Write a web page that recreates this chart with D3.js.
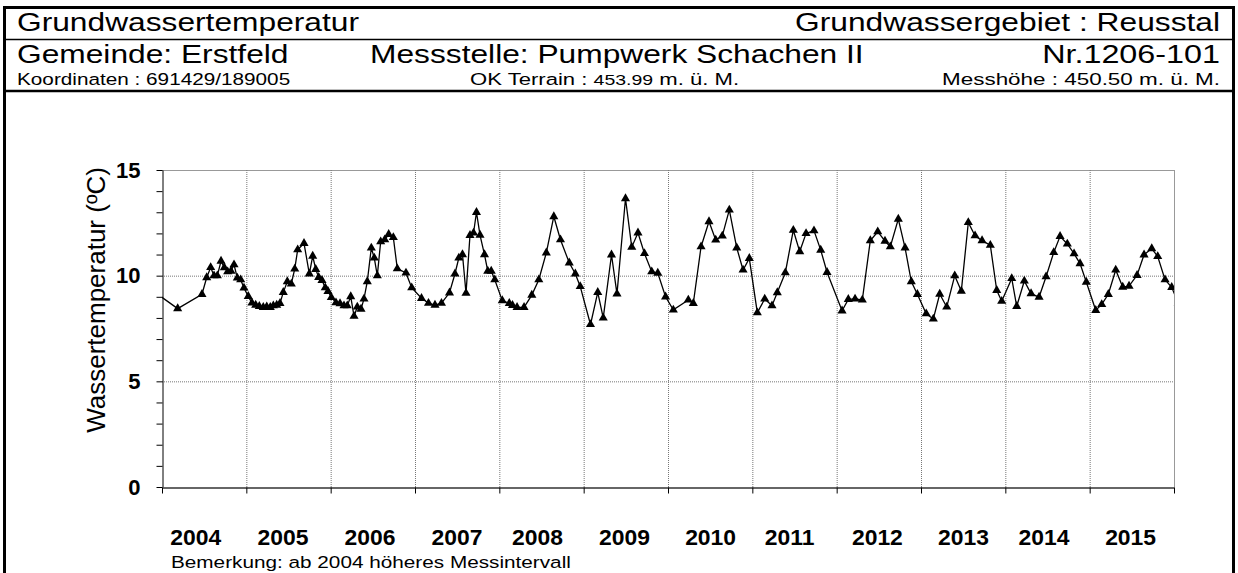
<!doctype html>
<html>
<head>
<meta charset="utf-8">
<title>Grundwassertemperatur</title>
<script src="https://cdn.jsdelivr.net/npm/d3@7/dist/d3.min.js"></script>
<style>
  html, body { margin: 0; padding: 0; background: #fff; }
  svg { display: block; font-family: "Liberation Sans", Arial, sans-serif; }
</style>
</head>
<body>
<svg id="chart" width="1238" height="573"></svg>
<script>
// measurement dates (decimal years) and groundwater temperature in degC
const years = [
  2003.85, 2004.186, 2004.474, 2004.530, 2004.577, 2004.617, 2004.656, 2004.700, 2004.739, 2004.779,
  2004.818, 2004.854, 2004.893, 2004.933, 2004.972, 2005.023, 2005.067, 2005.111, 2005.154, 2005.201,
  2005.242, 2005.284, 2005.320, 2005.360, 2005.399, 2005.438, 2005.486, 2005.533, 2005.574, 2005.609,
  2005.684, 2005.747, 2005.787, 2005.823, 2005.858, 2005.897, 2005.936, 2005.968, 2006.008, 2006.063,
  2006.111, 2006.158, 2006.197, 2006.238, 2006.277, 2006.316, 2006.360, 2006.395, 2006.434, 2006.482,
  2006.517, 2006.553, 2006.593, 2006.641, 2006.688, 2006.743, 2006.790, 2006.893, 2006.961, 2007.077,
  2007.160, 2007.237, 2007.314, 2007.409, 2007.474, 2007.520, 2007.563, 2007.605, 2007.652, 2007.694,
  2007.729, 2007.771, 2007.824, 2007.863, 2007.904, 2007.946, 2008.035, 2008.118, 2008.156, 2008.210,
  2008.293, 2008.385, 2008.468, 2008.557, 2008.646, 2008.725, 2008.829, 2008.901, 2008.959, 2009.081,
  2009.167, 2009.232, 2009.330, 2009.395, 2009.496, 2009.570, 2009.644, 2009.721, 2009.807, 2009.879,
  2009.971, 2010.063, 2010.241, 2010.300, 2010.392, 2010.486, 2010.566, 2010.644, 2010.727, 2010.815,
  2010.890, 2010.964, 2011.059, 2011.147, 2011.233, 2011.296, 2011.391, 2011.486, 2011.562, 2011.637,
  2011.731, 2011.811, 2011.886, 2012.064, 2012.138, 2012.218, 2012.304, 2012.399, 2012.487, 2012.573,
  2012.636, 2012.731, 2012.811, 2012.885, 2012.957, 2013.062, 2013.146, 2013.222, 2013.305, 2013.400,
  2013.478, 2013.561, 2013.641, 2013.724, 2013.822, 2013.898, 2013.957, 2014.076, 2014.135, 2014.225,
  2014.305, 2014.400, 2014.483, 2014.574, 2014.649, 2014.735, 2014.815, 2014.886, 2014.960, 2015.072,
  2015.143, 2015.221, 2015.309, 2015.392, 2015.467, 2015.562, 2015.645, 2015.736, 2015.807, 2015.894,
  2015.973, 2016.05
]
const temps = [
  9.40, 8.44, 9.12, 9.91, 10.39, 10.00, 10.00, 10.69, 10.38, 10.19,
  10.22, 10.52, 9.89, 9.81, 9.42, 9.02, 8.71, 8.61, 8.55, 8.50,
  8.53, 8.50, 8.58, 8.61, 8.69, 9.21, 9.72, 9.61, 10.32, 11.23,
  11.53, 10.09, 10.93, 10.30, 9.92, 9.78, 9.43, 9.26, 8.97, 8.72,
  8.68, 8.58, 8.58, 9.01, 8.08, 8.52, 8.42, 8.90, 9.72, 11.31,
  10.84, 10.00, 11.61, 11.70, 11.96, 11.81, 10.33, 10.13, 9.43, 8.93,
  8.70, 8.61, 8.70, 9.19, 10.09, 10.84, 11.00, 9.17, 11.91, 12.02,
  13.00, 11.92, 11.00, 10.22, 10.22, 9.81, 8.82, 8.69, 8.60, 8.50,
  8.50, 9.08, 9.81, 11.08, 12.80, 11.70, 10.61, 10.09, 9.49, 7.69,
  9.21, 8.00, 10.99, 9.14, 13.65, 11.35, 12.03, 11.05, 10.19, 10.12,
  9.00, 8.38, 8.85, 8.69, 11.37, 12.56, 11.69, 11.88, 13.11, 11.32,
  10.27, 10.82, 8.25, 8.90, 8.58, 9.20, 10.14, 12.15, 11.14, 12.00,
  12.13, 11.21, 10.16, 8.34, 8.88, 8.90, 8.85, 11.66, 12.08, 11.64,
  11.37, 12.68, 11.32, 9.72, 9.12, 8.20, 7.95, 9.13, 8.52, 10.00,
  9.27, 12.52, 11.89, 11.66, 11.44, 9.31, 8.79, 9.87, 8.55, 9.75,
  9.15, 8.99, 9.95, 11.10, 11.86, 11.50, 11.04, 10.57, 9.70, 8.36,
  8.64, 9.12, 10.27, 9.46, 9.51, 10.02, 10.99, 11.28, 10.91, 9.81,
  9.45, 8.70
]
const yearLabels = ['2004', '2005', '2006', '2007', '2008', '2009', '2010', '2011', '2012', '2013', '2014', '2015']
const labelAt = [2004.40, 2005.435, 2006.467, 2007.498, 2008.453, 2009.484, 2010.505, 2011.442, 2012.483, 2013.504, 2014.459, 2015.485]
const yTicks = [0, 5, 10, 15]

const svg = d3.select('#chart')
const sx = 1.22 // header lettering is wider than the installed sans

function label (x, y, txt, size, opts) {
  opts = opts || {}
  return svg.append('text')
    .attr('transform', `translate(${x},${y}) scale(${opts.sx || sx},1)`)
    .attr('font-size', size)
    .attr('font-weight', opts.bold ? 'bold' : 'normal')
    .attr('text-anchor', opts.anchor || 'start')
    .text(txt)
}

// frame and header
svg.append('rect').attr('x', 4.5).attr('y', 7.5).attr('width', 1229).attr('height', 580)
  .attr('fill', 'none').attr('stroke', '#000').attr('stroke-width', 3)
svg.append('line').attr('x1', 4).attr('x2', 1233).attr('y1', 39.5).attr('y2', 39.5)
  .attr('stroke', '#000').attr('stroke-width', 1.5)
svg.append('line').attr('x1', 4).attr('x2', 1233).attr('y1', 91).attr('y2', 91)
  .attr('stroke', '#000').attr('stroke-width', 2.5)

label(17, 31, 'Grundwassertemperatur', 26)
label(1220, 31, 'Grundwassergebiet : Reusstal', 26, { anchor: 'end' })
label(17, 63, 'Gemeinde: Erstfeld', 26)
label(370, 63, 'Messstelle: Pumpwerk Schachen II', 26)
label(1220, 63, 'Nr.1206-101', 26.5, { anchor: 'end' })
label(17, 85, 'Koordinaten : 691429/189005', 17)
const ok = label(470, 85, 'OK Terrain : ', 17, { sx: 1.3 })
ok.append('tspan').attr('font-size', 15).text('453.99')
ok.append('tspan').text(' m. ü. M.')
label(1220, 85, 'Messhöhe : 450.50 m. ü. M.', 17, { anchor: 'end', sx: 1.32 })

// chart
const x = d3.scaleLinear().domain([2004, 2016]).range([162, 1174])
const y = d3.scaleLinear().domain([0, 15]).range([487, 170])

svg.append('defs').append('clipPath').attr('id', 'clip')
  .append('rect').attr('x', x(2004)).attr('y', y(15) - 10)
  .attr('width', x(2016) - x(2004)).attr('height', y(0) - y(15) + 10)

// grid
const plot = svg.append('g')
plot.selectAll('.hgrid').data(yTicks.slice(1)).join('line')
  .attr('x1', x(2004)).attr('x2', x(2016))
  .attr('y1', d => y(d) + 0.5).attr('y2', d => y(d) + 0.5)
  .attr('stroke', d => d === 15 ? '#999' : '#777').attr('stroke-width', 1)
  .attr('stroke-dasharray', d => d === 15 ? null : '1,1')
plot.selectAll('.vgrid').data(d3.range(2005, 2017)).join('line')
  .attr('x1', d => x(d) + 0.5).attr('x2', d => x(d) + 0.5)
  .attr('y1', y(15)).attr('y2', y(0))
  .attr('stroke', d => d === 2016 ? '#999' : '#777').attr('stroke-width', 1)
  .attr('stroke-dasharray', d => d === 2016 ? null : '1,1')

// axes
const yAxis = svg.append('g').attr('transform', `translate(${x(2004) + 0.5},0)`)
  .call(d3.axisLeft(y).tickValues(d3.range(0, 16)).tickSize(6).tickSizeOuter(0)
    .tickPadding(16).tickFormat(d => yTicks.includes(d) ? d : ''))
yAxis.select('.domain').attr('stroke', '#000')
yAxis.selectAll('text').attr('font-size', 22).attr('font-weight', 'bold')
  .attr('font-family', '"Liberation Sans", Arial, sans-serif').attr('fill', '#000')

const xAxis = svg.append('g').attr('transform', `translate(0,${y(0) + 0.5})`)
  .call(d3.axisBottom(x).tickValues(d3.range(2004, 2017)).tickSize(6).tickSizeOuter(0).tickFormat(''))
xAxis.select('.domain').attr('stroke', '#333').attr('stroke-width', 1.5)

yearLabels.forEach((t, i) => label(x(labelAt[i]), 545, t, 22, { bold: true, anchor: 'middle', sx: 1.04 }))

svg.append('text')
  .attr('transform', 'translate(105,300) rotate(-90)')
  .attr('text-anchor', 'middle').attr('font-size', 26)
  .text('Wassertemperatur (ºC)')

label(171, 568, 'Bemerkung: ab 2004 höheres Messintervall', 17)

// series
const data = years.map((yr, i) => ({ yr, t: temps[i] }))
const series = svg.append('g').attr('clip-path', 'url(#clip)')
series.append('path').datum(data)
  .attr('fill', 'none').attr('stroke', '#000').attr('stroke-width', 1.3)
  .attr('d', d3.line().x(d => x(d.yr)).y(d => y(d.t)))
series.selectAll('path.pt').data(data).join('path')
  .attr('class', 'pt')
  .attr('transform', d => `translate(${x(d.yr)},${y(d.t)})`)
  .attr('d', d3.symbol(d3.symbolTriangle).size(36))
  .attr('fill', '#000')
</script>
</body>
</html>
